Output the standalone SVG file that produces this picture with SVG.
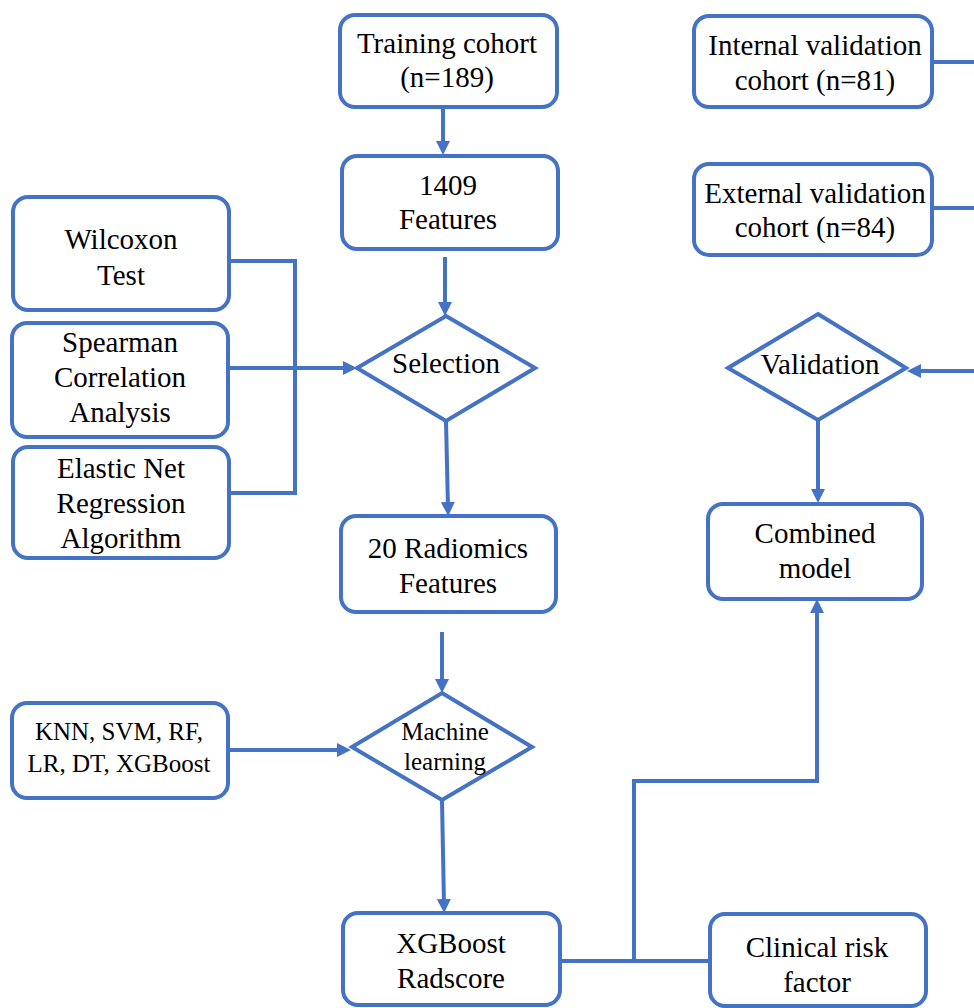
<svg xmlns="http://www.w3.org/2000/svg" width="974" height="1008" viewBox="0 0 974 1008">
<style>
.box{fill:#fff;stroke:#4472C4;stroke-width:4}
.dia{fill:#fff;stroke:#4472C4;stroke-width:4;stroke-linejoin:miter}
.ln{fill:none;stroke:#4472C4;stroke-width:4}
text{font-family:"Liberation Serif","Times New Roman",serif;font-size:29px;fill:#000;text-anchor:middle}
.sm{font-size:25px}
</style>
<defs>
<marker id="ah" markerUnits="userSpaceOnUse" markerWidth="16" markerHeight="16" refX="6" refY="7" orient="auto">
<path d="M0,0 L14,7 L0,14 z" fill="#4472C4"/>
</marker>
</defs>
<rect width="974" height="1008" fill="#fff"/>
<g id="connectors">
<line class="ln" x1="443" y1="107" x2="443" y2="147" marker-end="url(#ah)"/>
<line class="ln" x1="445" y1="257" x2="445" y2="308" marker-end="url(#ah)"/>
<polyline class="ln" points="229,261 295,261 295,493 229,493"/>
<line class="ln" x1="228" y1="368" x2="349" y2="368" marker-end="url(#ah)"/>
<line class="ln" x1="446" y1="421" x2="448" y2="508" marker-end="url(#ah)"/>
<line class="ln" x1="442" y1="632" x2="442" y2="685" marker-end="url(#ah)"/>
<line class="ln" x1="228" y1="750" x2="343" y2="750" marker-end="url(#ah)"/>
<line class="ln" x1="442" y1="800" x2="444" y2="905" marker-end="url(#ah)"/>
<line class="ln" x1="560" y1="961" x2="710" y2="961"/>
<polyline class="ln" points="634,961 634,781 817,781 817,607" marker-end="url(#ah)"/>
<line class="ln" x1="818" y1="420" x2="818" y2="495" marker-end="url(#ah)"/>
<line class="ln" x1="976" y1="371" x2="915" y2="371" marker-end="url(#ah)"/>
<line class="ln" x1="932" y1="62" x2="976" y2="62"/>
<line class="ln" x1="932" y1="208" x2="976" y2="208"/>
</g>
<g id="training"><rect class="box" x="340" y="15" width="217" height="92" rx="15"/><text x="447" y="53">Training cohort</text><text x="447" y="87">(n=189)</text></g>
<g id="features1409"><rect class="box" x="342" y="156" width="216" height="93" rx="15"/><text x="448" y="195">1409</text><text x="448" y="229">Features</text></g>
<g id="wilcoxon"><rect class="box" x="13" y="197" width="216" height="113" rx="15"/><text x="121" y="249">Wilcoxon</text><text x="121" y="285">Test</text></g>
<g id="spearman"><rect class="box" x="12" y="323" width="216" height="114" rx="15"/><text x="120" y="352">Spearman</text><text x="120" y="387">Correlation</text><text x="120" y="422">Analysis</text></g>
<g id="elastic"><rect class="box" x="13" y="447" width="216" height="111" rx="15"/><text x="121" y="478">Elastic Net</text><text x="121" y="513">Regression</text><text x="121" y="548">Algorithm</text></g>
<g id="selection"><polygon class="dia" points="446,316 535,368 446,421 357,368"/><text x="446" y="373">Selection</text></g>
<g id="radiomics20"><rect class="box" x="341" y="516" width="215" height="96" rx="15"/><text x="448" y="558">20 Radiomics</text><text x="448" y="593">Features</text></g>
<g id="ml"><polygon class="dia" points="442,693 532,747 442,800 352,747"/><text class="sm" x="445" y="740">Machine</text><text class="sm" x="445" y="770">learning</text></g>
<g id="knn"><rect class="box" x="12" y="703" width="216" height="95" rx="15"/><text class="sm" x="119" y="740">KNN, SVM, RF,</text><text class="sm" x="119" y="772">LR, DT, XGBoost</text></g>
<g id="xgb"><rect class="box" x="343" y="913" width="217" height="92" rx="15"/><text x="451" y="953">XGBoost</text><text x="451" y="988">Radscore</text></g>
<g id="clinical"><rect class="box" x="710" y="914" width="216" height="92" rx="15"/><text x="817" y="957">Clinical risk</text><text x="817" y="992">factor</text></g>
<g id="combined"><rect class="box" x="708" y="504" width="214" height="95" rx="15"/><text x="815" y="543">Combined</text><text x="815" y="578">model</text></g>
<g id="validation"><polygon class="dia" points="818,314 906,368 818,420 728,368"/><text x="820" y="374">Validation</text></g>
<g id="internal"><rect class="box" x="694" y="16" width="238" height="91" rx="15"/><text x="815" y="55">Internal validation</text><text x="815" y="90">cohort (n=81)</text></g>
<g id="external"><rect class="box" x="694" y="164" width="238" height="91" rx="15"/><text x="815" y="203">External validation</text><text x="815" y="237">cohort (n=84)</text></g>
</svg>
